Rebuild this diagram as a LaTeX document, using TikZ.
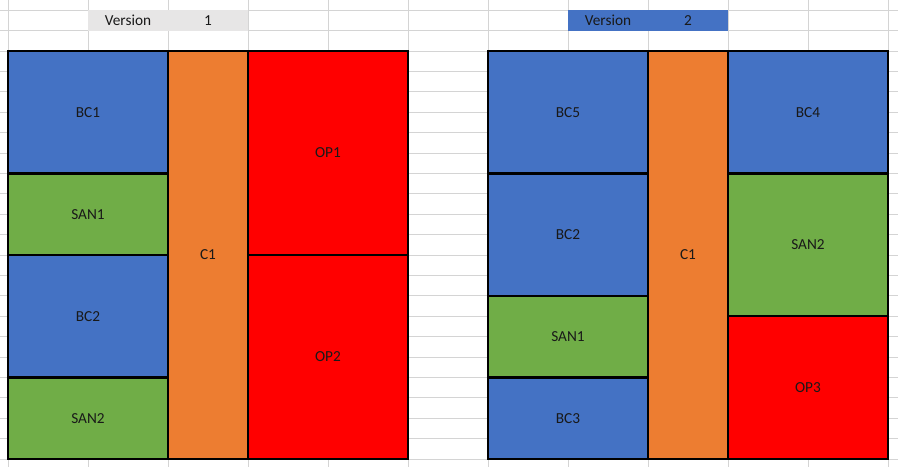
\documentclass[tikz,border=0pt]{standalone}
\usepackage{fontspec}
\setmainfont{Carlito}
\usepackage{xcolor}
\usepackage{tikz}
\usetikzlibrary{positioning}

\definecolor{cellBlue}{HTML}{4472C4}
\definecolor{cellGreen}{HTML}{70AD47}
\definecolor{cellOrange}{HTML}{ED7D31}
\definecolor{cellRed}{HTML}{FF0000}
\definecolor{cellGray}{HTML}{E7E6E6}
\definecolor{gridGray}{HTML}{D4D4D4}

\tikzset{
  gridline/.style={draw=gridGray, line width=1pt},
  block/.style={draw=black, line width=2.4pt, inner sep=0pt, outer sep=0pt,
    anchor=north west, text=black!90},
  wide/.style={minimum width=#1*80pt},
  rows/.style={minimum height=#1*20.4pt},
  vercell/.style={inner sep=0pt, outer sep=0pt, anchor=north west, text=black!90,
    minimum width=80pt, minimum height=20.4pt}
}

\begin{document}
\begin{tikzpicture}[x=1pt, y=-1pt, font=\fontsize{15.3}{18}\selectfont]
  % ----- Sheet background: frame and cell grid -----
  \useasboundingbox (0, 0) rectangle (898, 467);
  \fill[white] (0, 0) rectangle (898, 467);
  \foreach \gx in {8, 88, ..., 888}
    \draw[gridline] (\gx, 0) -- (\gx, 467);
  \foreach \k in {0, ..., 22}
    \draw[gridline] (0, {10.2 + 20.4*\k}) -- (898, {10.2 + 20.4*\k});

  % ----- Version headers -----
  \node[vercell, fill=cellGray] (ver1) at (88, 10.2) {Version};
  \node[vercell, fill=cellGray] (num1) at (ver1.north east) {1};
  \node[vercell, fill=cellBlue] (ver2) at (568, 10.2) {Version};
  \node[vercell, fill=cellBlue] (num2) at (ver2.north east) {2};

  % ----- Left layout: version 1 -----
  \node[block, fill=cellBlue, wide=2, rows=6] (bc1) at (8, 51) {BC1};
  \node[block, fill=cellGreen, wide=2, rows=4] (san1) at (bc1.south west) {SAN1};
  \node[block, fill=cellBlue, wide=2, rows=6] (bc2) at (san1.south west) {BC2};
  \node[block, fill=cellGreen, wide=2, rows=4] (san2) at (bc2.south west) {SAN2};
  \node[block, fill=cellOrange, wide=1, rows=20] (c1) at (bc1.north east) {C1};
  \node[block, fill=cellRed, wide=2, rows=10] (op1) at (c1.north east) {OP1};
  \node[block, fill=cellRed, wide=2, rows=10] (op2) at (op1.south west) {OP2};

  % ----- Right layout: version 2 -----
  \node[block, fill=cellBlue, wide=2, rows=6] (bc5) at (488, 51) {BC5};
  \node[block, fill=cellBlue, wide=2, rows=6] (bc2r) at (bc5.south west) {BC2};
  \node[block, fill=cellGreen, wide=2, rows=4] (san1r) at (bc2r.south west) {SAN1};
  \node[block, fill=cellBlue, wide=2, rows=4] (bc3) at (san1r.south west) {BC3};
  \node[block, fill=cellOrange, wide=1, rows=20] (c1r) at (bc5.north east) {C1};
  \node[block, fill=cellBlue, wide=2, rows=6] (bc4) at (c1r.north east) {BC4};
  \node[block, fill=cellGreen, wide=2, rows=7] (san2r) at (bc4.south west) {SAN2};
  \node[block, fill=cellRed, wide=2, rows=7] (op3) at (san2r.south west) {OP3};
\end{tikzpicture}
\end{document}
